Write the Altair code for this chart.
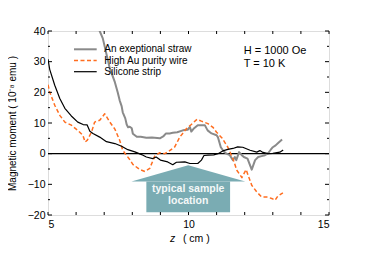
import altair as alt
import pandas as pd

FONT = "Liberation Sans"

# ---- data ----
straw_z = [6.70, 6.84, 6.95, 7.20, 7.38, 7.48, 7.55, 7.62, 7.66, 7.75, 7.80, 7.85, 7.91, 7.98,
           8.02, 8.16, 8.30, 8.50, 8.70, 8.98, 9.10, 9.20, 9.33, 9.44, 9.60, 9.80, 9.97, 10.05,
           10.10, 10.20, 10.33, 10.58, 10.68, 10.82, 11.00, 11.05, 11.15, 11.25, 11.35, 11.47,
           11.58, 11.65, 11.70, 11.80, 11.90, 11.97, 12.10, 12.25, 12.37, 12.48, 12.60, 12.72,
           12.83, 12.92, 13.00, 13.10, 13.18, 13.33]
straw_y = [46.0, 40.0, 37.6, 27.8, 23.3, 20.0, 17.4, 15.5, 13.5, 11.5, 9.5, 8.6, 8.8, 8.3,
           6.5, 5.5, 5.5, 5.2, 5.3, 5.0, 5.6, 6.6, 6.6, 6.8, 7.0, 7.6, 7.8, 8.7,
           7.2, 8.3, 9.3, 9.3, 7.6, 6.6, 6.0, 5.3, 2.1, 0.8, 0.0, -0.5,
           -2.1, -1.1, -2.1, 0.5, -0.5, -1.1, -1.6, -5.2, -2.1, -1.1, -0.8, -0.5,
           0.1, 1.2, 2.1, 2.7, 3.4, 4.6]

wire_z = [5.00, 5.06, 5.24, 5.42, 5.60, 5.83, 6.06, 6.24, 6.32, 6.40, 6.55, 6.66, 6.84, 7.02,
          7.20, 7.38, 7.55, 7.66, 7.79, 7.90, 8.02, 8.27, 8.45, 8.62, 8.80, 8.98, 9.15, 9.26,
          9.51, 9.69, 9.93, 10.10, 10.30, 10.46, 10.69, 10.87, 11.00, 11.20, 11.40, 11.58,
          11.72, 11.90, 12.05, 12.12, 12.25, 12.43, 12.60, 12.78, 12.96, 13.08, 13.18, 13.36]
wire_y = [22.5, 20.1, 15.8, 12.5, 10.3, 9.3, 7.6, 6.0, 3.8, 4.4, 7.1, 10.3, 10.9, 13.0,
          10.3, 8.0, 4.4, 1.1, -0.5, -1.8, -3.5, -5.2, -5.8, -4.8, -0.8, 0.3, 0.0, 0.5,
          2.2, 5.4, 8.2, 9.5, 11.2, 10.6, 9.8, 8.6, 7.0, 5.0, 2.1, -1.6,
          -5.4, -7.8, -5.2, -7.0, -10.3, -12.5, -14.1, -14.1, -14.6, -15.2, -13.8, -12.8]

strip_z = [5.00, 5.06, 5.24, 5.42, 5.60, 5.83, 6.06, 6.25, 6.39, 6.49, 6.60, 6.84, 7.08, 7.38,
           7.62, 7.84, 8.09, 8.33, 8.50, 8.73, 8.85, 9.00, 9.26, 9.44, 9.57, 9.87, 10.05, 10.33,
           10.46, 10.55, 10.70, 10.90, 11.05, 11.22, 11.40, 11.58, 11.75, 11.93, 12.19, 12.43,
           12.54, 12.65, 12.83, 13.00, 13.25, 13.37]
strip_y = [30.8, 27.5, 22.3, 18.0, 14.8, 12.3, 10.3, 9.5, 9.4, 7.3, 6.6, 5.4, 3.9, 3.3,
           2.4, 1.3, 0.6, -0.3, -1.1, -1.6, -1.1, -2.1, -2.7, -3.6, -2.8, -2.7, -3.2, -3.2,
           -2.1, -0.6, -0.5, -0.4, 0.0, 0.9, 1.4, 1.7, 2.2, 2.1, 1.1, 0.5,
           1.0, 0.4, 0.0, 0.1, 0.5, 1.2]

series_names = ["An exeptional straw", "High Au purity wire", "Silicone strip"]
series_colors = ["#8a8a8a", "#ff6d1f", "#000000"]

arrow_head_z = [7.97, 9.99, 12.02]
arrow_head_y = [-9.1, -3.8, -9.1]
arrow_base = [-9.1, -9.1, -9.1]
arrow_body_z = [8.50]
arrow_body_z2 = [11.48]
arrow_body_y = [-9.1]
arrow_body_y2 = [-19.1]
arrow_text = ["typical sample", "location"]
arrow_text_z = [9.99, 9.99]
arrow_text_y = [-11.4, -15.4]

x_ticks = list(range(5, 16))
x_labels = [5, 10, 15]
y_labels = [-20, -10, 0, 10, 20, 30, 40]
y_minor = [-15, -5, 5, 15, 25, 35]

W, H = 281, 184

xs = alt.Scale(domain=[5, 15], nice=False, zero=False)
ys = alt.Scale(domain=[-20, 40], nice=False, zero=False)
xax = alt.Axis(values=x_labels, ticks=False, domain=False, grid=False, labelFontSize=10.5,
               labelPadding=4, labelColor="black", labelFont=FONT, title=None)
yax = alt.Axis(values=y_labels, ticks=False, domain=False, grid=False, labelFontSize=10.5,
               labelPadding=3, labelColor="black", labelFont=FONT,
               title="Magnetic moment ( 10⁻⁸ emu )", titleFontSize=10, titleFontWeight="normal",
               titleColor="black", titleFont=FONT, titlePadding=10)


def X(f):
    return alt.X(f"{f}:Q", scale=xs, axis=xax)


def Y(f):
    return alt.Y(f"{f}:Q", scale=ys, axis=yax)


one = pd.DataFrame({"a": [0]})
layers = []

# arrow annotation
head = pd.DataFrame({"z": arrow_head_z, "y": arrow_head_y, "y2": arrow_base})
layers.append(alt.Chart(head).mark_area(color="#7aacb3", opacity=1).encode(
    x=X("z"), y=Y("y"), y2=alt.Y2("y2")))
body = pd.DataFrame({"z": arrow_body_z, "z2": arrow_body_z2, "y": arrow_body_y, "y2": arrow_body_y2})
layers.append(alt.Chart(body).mark_rect(color="#7aacb3").encode(
    x=X("z"), x2=alt.X2("z2"), y=Y("y"), y2=alt.Y2("y2")))
atext = pd.DataFrame({"z": arrow_text_z, "y": arrow_text_y, "t": arrow_text})
layers.append(alt.Chart(atext).mark_text(font=FONT, fontSize=10.5, fontWeight="bold",
                                         color="#f4f8f8", baseline="middle").encode(
    x=X("z"), y=Y("y"), text="t:N"))

# zero line
layers.append(alt.Chart(pd.DataFrame({"y": [0]})).mark_rule(color="black", strokeWidth=1.2).encode(y=Y("y")))

# series
styles = [dict(strokeWidth=2.0), dict(strokeWidth=1.5, strokeDash=[4, 2.5]), dict(strokeWidth=1.2)]
for (z, y), col, st in zip([(straw_z, straw_y), (wire_z, wire_y), (strip_z, strip_y)], series_colors, styles):
    df = pd.DataFrame({"z": z, "y": y})
    layers.append(alt.Chart(df).mark_line(color=col, clip=True, strokeJoin="round", **st).encode(
        x=X("z"), y=Y("y")))

# inward ticks
xt = pd.DataFrame({"t": x_ticks})
layers.append(alt.Chart(xt).mark_rule(color="black", strokeWidth=1).encode(
    x=X("t"), y=alt.value(H), y2=alt.value(H - 3)))
layers.append(alt.Chart(xt).mark_rule(color="black", strokeWidth=1).encode(
    x=X("t"), y=alt.value(0), y2=alt.value(3)))
ymaj = pd.DataFrame({"t": y_labels})
ymin = pd.DataFrame({"t": y_minor})
for d, ln in [(ymaj, 4), (ymin, 2)]:
    layers.append(alt.Chart(d).mark_rule(color="black", strokeWidth=1).encode(
        y=Y("t"), x=alt.value(0), x2=alt.value(ln)))
    layers.append(alt.Chart(d).mark_rule(color="black", strokeWidth=1).encode(
        y=Y("t"), x=alt.value(W), x2=alt.value(W - ln)))

# legend (drawn by hand)
for i, (name, col, st) in enumerate(zip(series_names, series_colors, styles)):
    yy = 18.3 + 11.2 * i
    layers.append(alt.Chart(one).mark_rule(color=col, **st).encode(
        x=alt.value(26), x2=alt.value(48.7), y=alt.value(yy)))
    layers.append(alt.Chart(one).mark_text(font=FONT, fontSize=10, align="left", baseline="middle",
                                           color="black").encode(
        x=alt.value(56.3), y=alt.value(yy), text=alt.value(name)))

# condition labels
for txt, yy in [("H = 1000 Oe", 19.7), ("T = 10 K", 33.3)]:
    layers.append(alt.Chart(one).mark_text(font=FONT, fontSize=11, align="left", baseline="middle",
                                           color="black").encode(
        x=alt.value(195.7), y=alt.value(yy), text=alt.value(txt)))

# x axis title with italic z
layers.append(alt.Chart(one).mark_text(font=FONT, fontSize=10.5, fontStyle="italic", align="center",
                                       baseline="middle", color="black").encode(
    x=alt.value(124.5), y=alt.value(208), text=alt.value("z")))
layers.append(alt.Chart(one).mark_text(font=FONT, fontSize=10.5, align="center",
                                       baseline="middle", color="black").encode(
    x=alt.value(148.3), y=alt.value(208), text=alt.value("( cm )")))

chart = alt.layer(*layers).properties(
    width=W, height=H,
    padding={"left": 40, "top": 23, "right": 30, "bottom": 35},
    autosize=alt.AutoSizeParams(type="none"),
).configure_view(stroke="black", strokeWidth=1).configure(font=FONT)

chart.save("out.html", embed_options={"renderer": "svg", "actions": False})
